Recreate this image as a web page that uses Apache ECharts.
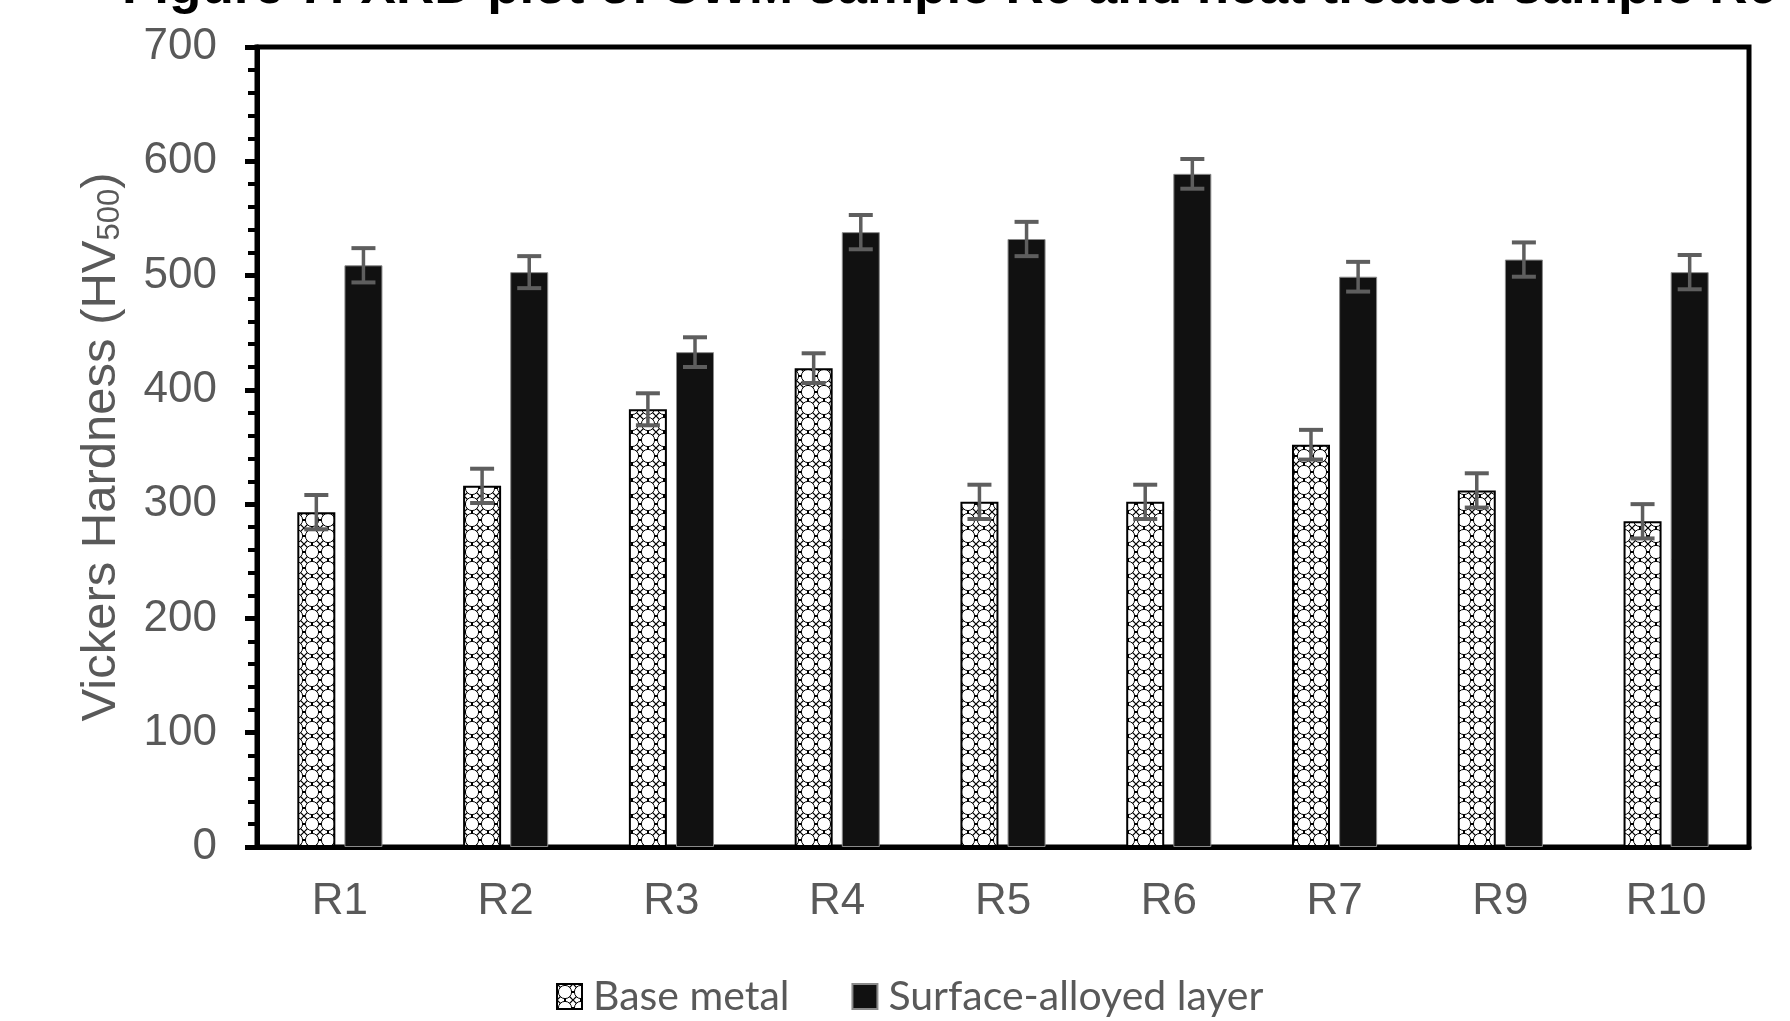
<!DOCTYPE html>
<html>
<head>
<meta charset="utf-8">
<title>Vickers Hardness</title>
<script src="https://cdn.jsdelivr.net/npm/echarts@6/dist/echarts.min.js"></script>
<style>
  html, body { margin: 0; padding: 0; background: #fff; }
  #chart { width: 1790px; height: 1021px; }
</style>
</head>
<body>
<div id="chart"></div>
<script>
// Sample positions and measured Vickers hardness (HV500)
const categories = ['R1', 'R2', 'R3', 'R4', 'R5', 'R6', 'R7', 'R9', 'R10'];
const baseMetal = [293, 316, 383, 419, 302, 302, 352, 312, 285];
const surfaceLayer = [509, 503, 433, 538, 532, 589, 499, 514, 503];
const baseMetalErr = [15, 15, 14, 13, 15, 15, 13, 15, 15];
const surfaceLayerErr = [15, 14, 13, 15, 15, 13, 13, 15, 15];
const seriesNames = ['Base metal', 'Surface-alloyed layer'];

const FONT = "'Liberation Sans', Arial, sans-serif";
const GREY = '#595959';
const BAR_W = 38;
const BAR_GAP = 0.24;
// centre offset of each bar within its category band
const pairW = BAR_W * 2 + BAR_W * BAR_GAP;
const offsets = [-pairW / 2 + BAR_W / 2, pairW / 2 - BAR_W / 2];

// lattice fill used for the base-metal bars
function latticeTile() {
  const s = 16;
  const c = document.createElement('canvas');
  c.width = s; c.height = s;
  const g = c.getContext('2d');
  g.fillStyle = '#fff';
  g.fillRect(0, 0, s, s);
  g.strokeStyle = '#000';
  g.lineWidth = 1;
  g.beginPath();
  g.arc(s / 2, s / 2, 6.6, 0, Math.PI * 2);
  g.stroke();
  // crossings in the gaps between rings
  g.lineWidth = 1.2;
  g.beginPath();
  g.moveTo(0, 0); g.lineTo(3.5, 3.5);
  g.moveTo(s, 0); g.lineTo(s - 3.5, 3.5);
  g.moveTo(0, s); g.lineTo(3.5, s - 3.5);
  g.moveTo(s, s); g.lineTo(s - 3.5, s - 3.5);
  g.stroke();
  g.fillStyle = '#000';
  g.fillRect(s / 2 - 1, 0, 2, 1.5);
  g.fillRect(s / 2 - 1, s - 1.5, 2, 1.5);
  g.fillRect(0, s / 2 - 1, 1.5, 2);
  g.fillRect(s - 1.5, s / 2 - 1, 1.5, 2);
  return c;
}

function errorSeries(values, errs, offset) {
  return {
    type: 'custom',
    z: 10,
    silent: true,
    data: values.map((v, i) => [i, v, errs[i]]),
    encode: { x: 0, y: 1 },
    renderItem: function (params, api) {
      const i = api.value(0), v = api.value(1), e = api.value(2);
      const cx = api.coord([i, v])[0] + offset;
      const yTop = api.coord([i, v + e])[1];
      const yBot = api.coord([i, v - e])[1];
      const half = 12;
      const st = { stroke: '#5e5e5e', lineWidth: 4 };
      return {
        type: 'group',
        children: [
          { type: 'line', shape: { x1: cx, y1: yTop, x2: cx, y2: yBot }, style: { stroke: '#5e5e5e', lineWidth: 3.5 } },
          { type: 'line', shape: { x1: cx - half, y1: yTop, x2: cx + half, y2: yTop }, style: st },
          { type: 'line', shape: { x1: cx - half, y1: yBot, x2: cx + half, y2: yBot }, style: st }
        ]
      };
    }
  };
}

const chart = echarts.init(document.getElementById('chart'));
chart.setOption({
  animation: false,
  backgroundColor: '#fff',
  title: {
    text: 'Figure 7: XRD plot of SWM sample R6 and heat treated sample R6',
    left: 122,
    top: -38,
    padding: 0,
    textStyle: { fontFamily: FONT, fontWeight: 'bold', fontSize: 53, color: '#000' }
  },
  legend: {
    data: seriesNames,
    bottom: -1,
    left: 551,
    itemWidth: 25,
    itemHeight: 25,
    itemGap: 62,
    icon: 'rect',
    textStyle: { fontFamily: 'Lato, sans-serif', fontSize: 41, color: GREY, padding: [0, 0, 0, 6] }
  },
  grid: {
    left: 257, right: 41, top: 47, bottom: 174,
    show: true, borderColor: '#000', borderWidth: 5, backgroundColor: 'transparent'
  },
  xAxis: {
    type: 'category',
    data: categories,
    axisLine: { lineStyle: { color: '#000', width: 5 } },
    axisTick: { show: false },
    axisLabel: { fontFamily: FONT, fontSize: 44, color: GREY, margin: 33 },
    splitLine: { show: false }
  },
  yAxis: {
    type: 'value',
    min: 0, max: 700, interval: 100,
    name: '{a|Vickers Hardness (HV}{b|500}{a|)}',
    nameLocation: 'middle',
    nameRotate: 90,
    nameGap: 131,
    nameTextStyle: {
      rich: {
        a: { fontFamily: FONT, fontSize: 49, color: GREY },
        b: { fontFamily: FONT, fontSize: 31, color: GREY, verticalAlign: 'bottom', padding: [12, 0, 0, 0] }
      }
    },
    axisLine: { show: true, lineStyle: { color: '#000', width: 5 } },
    axisTick: { show: true, inside: false, length: 12, lineStyle: { color: '#000', width: 5 } },
    minorTick: { show: true, splitNumber: 5, length: 9, lineStyle: { color: '#000', width: 4 } },
    axisLabel: { fontFamily: FONT, fontSize: 44, color: GREY, margin: 40 },
    splitLine: { show: false }
  },
  series: [
    {
      name: seriesNames[0],
      type: 'bar',
      data: baseMetal,
      barWidth: BAR_W,
      barGap: (BAR_GAP * 100) + '%',
      itemStyle: {
        color: { image: latticeTile(), repeat: 'repeat' },
        borderColor: '#000',
        borderWidth: 2
      }
    },
    {
      name: seriesNames[1],
      type: 'bar',
      data: surfaceLayer,
      barWidth: BAR_W,
      itemStyle: { color: '#111', borderColor: '#8a8a8a', borderWidth: 1 }
    },
    errorSeries(baseMetal, baseMetalErr, offsets[0]),
    errorSeries(surfaceLayer, surfaceLayerErr, offsets[1])
  ]
});
</script>
</body>
</html>
